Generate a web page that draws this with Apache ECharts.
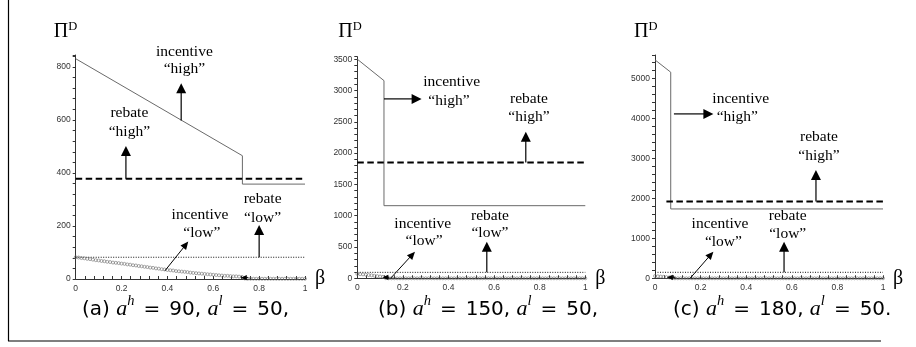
<!DOCTYPE html>
<html>
<head>
<meta charset="utf-8">
<script src="https://cdn.jsdelivr.net/npm/echarts@6/dist/echarts.min.js"></script>
<style>
  html, body { margin: 0; padding: 0; background: #fff; }
  #chart { width: 916px; height: 347px; }
</style>
</head>
<body>
<div id="chart"></div>
<script>
// ---- data -------------------------------------------------------------
// β values at which the "incentive low" profit is sampled
const betaGrid = [0, 0.0125, 0.025, 0.0375, 0.05, 0.0625, 0.075, 0.0875, 0.1, 0.1125,
  0.125, 0.1375, 0.15, 0.1625, 0.175, 0.1875, 0.2, 0.2125, 0.225, 0.2375,
  0.25, 0.2625, 0.275, 0.2875, 0.3, 0.3125, 0.325, 0.3375, 0.35, 0.3625,
  0.375, 0.3875, 0.4, 0.4125, 0.425, 0.4375, 0.45, 0.4625, 0.475, 0.4875,
  0.5, 0.5125, 0.525, 0.5375, 0.55, 0.5625, 0.575, 0.5875, 0.6, 0.6125,
  0.625, 0.6375, 0.65, 0.6625, 0.675, 0.6875, 0.7, 0.7125, 0.725, 0.7375,
  0.75, 0.7625, 0.775, 0.7875, 0.8, 0.8125, 0.825, 0.8375, 0.85, 0.8625,
  0.875, 0.8875, 0.9, 0.9125, 0.925, 0.9375, 0.95, 0.9625, 0.975, 0.9875, 1];

// (a) a^h = 90, a^l = 50
const aIncentiveHigh = [[0, 831], [0.727, 465], [0.727, 358], [1, 358]];
const aRebateHigh = [[0, 378], [1, 378]];
const aRebateLow = [[0, 82], [1, 82]];
const aIncentiveLow = [82, 81, 79, 78, 76, 75, 73, 71, 70, 68,
  67, 65, 64, 62, 61, 60, 58, 57, 55, 54,
  52, 51, 49, 48, 46, 45, 43, 42, 40, 39,
  37, 36, 34, 33, 32, 30, 29, 28, 27, 26,
  24, 23, 22, 21, 20, 19, 18, 17, 16, 15,
  14, 13, 12, 12, 11, 10, 10, 9, 8, 2,
  1, 1, 1, 1, 1, 1, 1, 1, 1, 1,
  1, 1, 1, 1, 1, 1, 1, 1, 1, 1, 1];

// (b) a^h = 150, a^l = 50
const bIncentiveHigh = [[0, 3500], [0.117, 3158], [0.117, 1160], [1, 1160]];
const bRebateHigh = [[0, 1848], [1, 1848]];
const bRebateLow = [[0, 95], [1, 95]];
const bIncentiveLow = [70, 66, 62, 57, 52, 47, 41, 35, 29, 23,
  2, 0, 0, 0, 0, 0, 0, 0, 0, 0,
  0, 0, 0, 0, 0, 0, 0, 0, 0, 0,
  0, 0, 0, 0, 0, 0, 0, 0, 0, 0,
  0, 0, 0, 0, 0, 0, 0, 0, 0, 0,
  0, 0, 0, 0, 0, 0, 0, 0, 0, 0,
  0, 0, 0, 0, 0, 0, 0, 0, 0, 0,
  0, 0, 0, 0, 0, 0, 0, 0, 0, 0, 0];

// (c) a^h = 180, a^l = 50
const cIncentiveHigh = [[0, 5458], [0.069, 5150], [0.069, 1733], [1, 1733]];
const cRebateHigh = [[0.05, 1917], [1, 1917]];
const cRebateLow = [[0, 150], [1, 150]];
const cIncentiveLow = [57, 50, 43, 36, 29, 22, 2, 0, 0, 0,
  0, 0, 0, 0, 0, 0, 0, 0, 0, 0,
  0, 0, 0, 0, 0, 0, 0, 0, 0, 0,
  0, 0, 0, 0, 0, 0, 0, 0, 0, 0,
  0, 0, 0, 0, 0, 0, 0, 0, 0, 0,
  0, 0, 0, 0, 0, 0, 0, 0, 0, 0,
  0, 0, 0, 0, 0, 0, 0, 0, 0, 0,
  0, 0, 0, 0, 0, 0, 0, 0, 0, 0, 0];

// axis ranges: max, tick step, labelled step
const yMax = [845, 3540, 5580];
const yStep = [40, 100, 200];
const yLabelStep = [200, 500, 1000];
const xStep = 0.04;
const xLabelStep = 0.2;

// caption parameters
const captionTags = ['(a)', '(b)', '(c)'];
const captionAh = [90, 150, 180];
const captionAl = [50, 50, 50];
const captionEnd = [',', ',', '.'];

// annotation arrows in data space: panel, from, to, kind
const noteArrows = [
  [0, [0.46, 598], [0.46, 738], 'big'],
  [0, [0.219, 378], [0.219, 502], 'big'],
  [0, [0.80, 82], [0.80, 204], 'big'],
  [0, [0.389, 31], [0.491, 141], 'small'],
  [0, [0.752, 5], [0.72, 5], 'tiny'],
  [1, [0.117, 2866], [0.282, 2866], 'big'],
  [1, [0.739, 1848], [0.739, 2343], 'big'],
  [1, [0.568, 95], [0.568, 585], 'big'],
  [1, [0.146, 0], [0.253, 425], 'small'],
  [1, [0.14, 16], [0.11, 16], 'tiny'],
  [2, [0.083, 4108], [0.256, 4108], 'big'],
  [2, [0.706, 1917], [0.706, 2708], 'big'],
  [2, [0.566, 150], [0.566, 915], 'big'],
  [2, [0.154, 0], [0.256, 665], 'small'],
  [2, [0.09, 25], [0.052, 25], 'tiny']
];

// annotation words in data space: panel, text, anchor
const noteTexts = [
  [0, 'incentive', [0.474, 858]], [0, '\u201Chigh\u201D', [0.474, 791]],
  [0, 'rebate', [0.234, 625]], [0, '\u201Chigh\u201D', [0.234, 556]],
  [0, 'rebate', [0.815, 301]], [0, '\u201Clow\u201D', [0.815, 229]],
  [0, 'incentive', [0.542, 241]], [0, '\u201Clow\u201D', [0.55, 172]],
  [1, 'incentive', [0.414, 3132]], [1, '\u201Chigh\u201D', [0.402, 2834]],
  [1, 'rebate', [0.753, 2866]], [1, '\u201Chigh\u201D', [0.753, 2583]],
  [1, 'rebate', [0.582, 996]], [1, '\u201Clow\u201D', [0.582, 719]],
  [1, 'incentive', [0.287, 863]], [1, '\u201Clow\u201D', [0.293, 601]],
  [2, 'incentive', [0.376, 4483]], [2, '\u201Chigh\u201D', [0.361, 4025]],
  [2, 'rebate', [0.719, 3525]], [2, '\u201Chigh\u201D', [0.719, 3065]],
  [2, 'rebate', [0.582, 1565]], [2, '\u201Clow\u201D', [0.582, 1108]],
  [2, 'incentive', [0.285, 1358]], [2, '\u201Clow\u201D', [0.3, 915]]
];

// ---- layout -----------------------------------------------------------
const gridBoxes = [
  { left: 75.7, top: 55, width: 229.3, height: 224 },
  { left: 357.3, top: 56.7, width: 228, height: 221.6 },
  { left: 655, top: 55, width: 228, height: 223.3 }
];
const captionLeft = [82, 378, 673];
const captionY = 307;
const piOffset = [-22, -19, -21];

const AXIS = '#333';
const SERIF = '"Liberation Serif", "Times New Roman", serif';
const SANS = '"Liberation Sans", Arial, sans-serif';
const CAPSANS = '"DejaVu Sans", sans-serif';

const onStep = (v, step) => Math.abs(v / step - Math.round(v / step)) < 1e-6;

const panels = [
  [aIncentiveHigh, aRebateHigh, aRebateLow, aIncentiveLow],
  [bIncentiveHigh, bRebateHigh, bRebateLow, bIncentiveLow],
  [cIncentiveHigh, cRebateHigh, cRebateLow, cIncentiveLow]
];

const grids = [], xAxes = [], yAxes = [], series = [];
panels.forEach((p, i) => {
  grids.push(Object.assign({ containLabel: false }, gridBoxes[i]));
  xAxes.push({
    gridIndex: i, type: 'value', min: 0, max: 1, interval: xStep,
    axisLine: { lineStyle: { color: AXIS, width: 1 } },
    axisTick: { inside: true, length: 3, lineStyle: { color: AXIS, width: 1 } },
    axisLabel: {
      margin: 5, fontSize: 8.5, fontFamily: SANS, color: '#333',
      formatter: v => onStep(v, xLabelStep) ? String(Math.round(v * 10) / 10) : ''
    },
    splitLine: { show: false },
    name: '\u03B2', nameLocation: 'end', nameGap: 10,
    nameTextStyle: { fontFamily: SERIF, fontSize: 20, color: '#000', padding: [0, 0, 12, 0] }
  });
  yAxes.push({
    gridIndex: i, type: 'value', min: 0, max: yMax[i], interval: yStep[i],
    axisLine: { show: true, lineStyle: { color: AXIS, width: 1 } },
    axisTick: { show: true, inside: false, length: 3, lineStyle: { color: AXIS, width: 1 } },
    axisLabel: {
      margin: 5, fontSize: 8.5, fontFamily: SANS, color: '#333',
      formatter: v => onStep(v, yLabelStep[i]) ? String(Math.round(v)) : ''
    },
    splitLine: { show: false }
  });
  const base = { xAxisIndex: i, yAxisIndex: i, animation: false, silent: true };
  series.push(Object.assign({}, base, {
    type: 'line', data: p[0], showSymbol: false, z: 3,
    lineStyle: { color: '#6a6a6a', width: 1 }
  }));
  series.push(Object.assign({}, base, {
    type: 'line', data: p[1], showSymbol: false, z: 3,
    lineStyle: { color: '#000', width: 2, type: [6.5, 3.5] }
  }));
  series.push(Object.assign({}, base, {
    type: 'line', data: p[2], showSymbol: false, z: 3,
    lineStyle: { color: '#111', width: 1, type: [1, 1.5] }
  }));
  series.push(Object.assign({}, base, {
    type: 'scatter', data: betaGrid.map((b, j) => [b, p[3][j]]), z: 4,
    symbol: 'circle', symbolSize: 3,
    itemStyle: { color: 'rgba(255,255,255,0)', borderColor: '#666', borderWidth: 0.7 }
  }));
});

const chart = echarts.init(document.getElementById('chart'), null, { renderer: 'canvas' });
chart.setOption({
  animation: false,
  backgroundColor: '#fff',
  grid: grids, xAxis: xAxes, yAxis: yAxes, series: series
});

// ---- annotations, placed through the axes' own scales -----------------
const px = (i, pt) => chart.convertToPixel({ gridIndex: i }, pt);
const headSize = { big: [10, 5, 1.2], small: [8, 3.6, 1], tiny: [6, 2.6, 1] };
const graphics = [];

noteArrows.forEach(([i, from, to, kind]) => {
  const a = px(i, from), b = px(i, to);
  const [hl, hw, lw] = headSize[kind];
  const dx = b[0] - a[0], dy = b[1] - a[1];
  const len = Math.hypot(dx, dy);
  const ux = dx / len, uy = dy / len;
  const bx = b[0] - ux * hl, by = b[1] - uy * hl;
  graphics.push({
    type: 'line', silent: true, z: 10,
    shape: { x1: a[0], y1: a[1], x2: bx + ux * 1, y2: by + uy * 1 },
    style: { stroke: '#000', lineWidth: lw }
  });
  graphics.push({
    type: 'polygon', silent: true, z: 10,
    shape: { points: [[b[0], b[1]], [bx - uy * hw, by + ux * hw], [bx + uy * hw, by - ux * hw]] },
    style: { fill: '#000' }
  });
});

noteTexts.forEach(([i, text, at]) => {
  const p = px(i, at);
  graphics.push({
    type: 'text', silent: true, z: 10, x: p[0], y: p[1],
    style: {
      text: text, font: '15.5px ' + SERIF, fill: '#000',
      align: 'center', verticalAlign: 'middle',
      textAlign: 'center', textVerticalAlign: 'middle'
    }
  });
});

// Π^D over each vertical axis
gridBoxes.forEach((g, i) => {
  const top = px(i, [0, yMax[i]]);
  graphics.push({
    type: 'text', silent: true, z: 10, x: top[0] + piOffset[i], y: 31,
    style: {
      text: '{p|\u03A0}{d|D}',
      align: 'left', verticalAlign: 'middle', textAlign: 'left', textVerticalAlign: 'middle',
      rich: {
        p: { fontFamily: SERIF, fontSize: 20, color: '#000', lineHeight: 22, verticalAlign: 'bottom' },
        d: { fontFamily: SERIF, fontSize: 12.5, color: '#000', lineHeight: 13, verticalAlign: 'top' }
      }
    }
  });
});

// sub-figure captions
captionTags.forEach((tag, i) => {
  graphics.push({
    type: 'text', silent: true, z: 10, x: captionLeft[i], y: captionY,
    style: {
      text: '{n|' + tag + ' }{i|a}{s|h}{e|=}{n|' + captionAh[i] + ', }{i|a}{s|l}{e|=}{n|' + captionAl[i] + captionEnd[i] + '}',
      align: 'left', verticalAlign: 'middle', textAlign: 'left', textVerticalAlign: 'middle',
      rich: {
        n: { fontFamily: CAPSANS, fontSize: 20, color: '#000', lineHeight: 26, verticalAlign: 'bottom' },
        e: { fontFamily: CAPSANS, fontSize: 20, color: '#000', lineHeight: 26, verticalAlign: 'bottom', padding: [0, 9, 0, 9] },
        i: { fontFamily: SERIF, fontStyle: 'italic', fontSize: 22, color: '#000', lineHeight: 26, verticalAlign: 'bottom' },
        s: { fontFamily: SERIF, fontStyle: 'italic', fontSize: 14.5, color: '#000', lineHeight: 10, verticalAlign: 'top' }
      }
    }
  });
});

// figure frame: left and bottom rules
graphics.push({ type: 'line', silent: true, shape: { x1: 8.5, y1: 0, x2: 8.5, y2: 341 }, style: { stroke: '#000', lineWidth: 1.2 } });
graphics.push({ type: 'line', silent: true, shape: { x1: 8, y1: 341, x2: 881, y2: 341 }, style: { stroke: '#000', lineWidth: 1.2 } });

chart.setOption({ graphic: graphics });
</script>
</body>
</html>
